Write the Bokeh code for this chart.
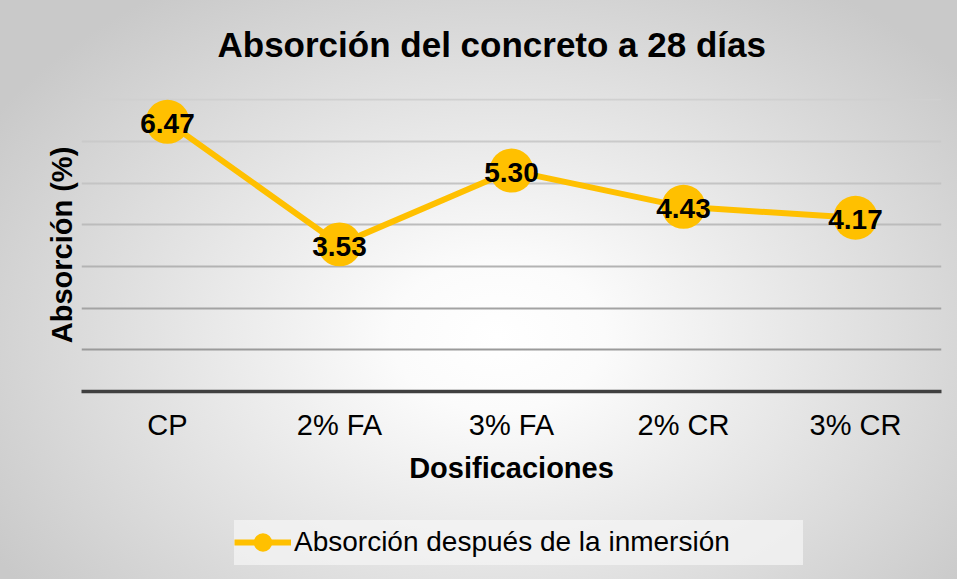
from bokeh.plotting import figure
from bokeh.layouts import column
from bokeh.models import (FactorRange, Range1d, Grid, FixedTicker, Legend, LegendItem,
                          ColumnDataSource, Title)
from bokeh.core.properties import value
from bokeh.embed import file_html
from bokeh.resources import INLINE

# ---- data ----
categories = ["CP", "2% FA", "3% FA", "2% CR", "3% CR"]
absorcion = [6.47, 3.53, 5.30, 4.43, 4.17]
labels = [f"{v:.2f}" for v in absorcion]
grid_levels = [1, 2, 3, 4, 5, 6, 7]
grid_colors = ["#9a9a9a", "#a3a3a3", "#b3b3b3", "#bcbcbc", "#c4c4c4", "#cacaca", "#d0d0d0"]

title_text = "Absorción del concreto a 28 días"
x_title = "Dosificaciones"
y_title = "Absorción (%)"
series_name = "Absorción después de la inmersión"

GOLD = "#FFC000"
FONT = "Liberation Sans"

src = ColumnDataSource(dict(x=categories, y=absorcion, t=labels))

# ---- title strip ----
tp = figure(width=957, height=98, output_backend="svg", toolbar_location=None,
            x_range=FactorRange(*categories, range_padding=0), y_range=Range1d(0, 1),
            min_border_left=81, min_border_right=16, min_border_top=66, min_border_bottom=0)
tp.axis.visible = False
tp.grid.visible = False
tp.background_fill_color = None
tp.border_fill_color = None
tp.outline_line_color = None
tp.title.text = title_text
tp.title.text_font = FONT
tp.title.text_font_size = "35px"
tp.title.text_font_style = "bold"
tp.title.text_color = "#000000"
tp.title.align = "left"
tp.title.vertical_align = "bottom"
tp.title.offset = 136
tp.title.standoff = 6

# ---- main chart ----
p = figure(width=957, height=422, output_backend="svg", toolbar_location=None,
           x_range=FactorRange(*categories, range_padding=0), y_range=Range1d(0, 7.03),
           min_border_left=81, min_border_right=16, min_border_top=0, min_border_bottom=129)
p.title.visible = False
p.background_fill_color = None
p.border_fill_color = None
p.outline_line_color = None

# grids
p.xgrid.visible = False
p.ygrid.visible = False
for lvl, col in zip(grid_levels, grid_colors):
    p.add_layout(Grid(dimension=1, ticker=FixedTicker(ticks=[lvl]),
                      grid_line_color=col, grid_line_width=2))

# x axis
xa = p.xaxis[0]
xa.axis_line_color = "#404040"
xa.axis_line_width = 3.5
xa.major_tick_line_color = None
xa.minor_tick_line_color = None
xa.major_tick_out = 0
xa.major_label_text_font = FONT
xa.major_label_text_font_size = "29px"
xa.major_label_text_color = "#000000"
xa.major_label_standoff = 17
xa.axis_label = x_title
xa.axis_label_text_font = FONT
xa.axis_label_text_font_size = "29px"
xa.axis_label_text_font_style = "bold"
xa.axis_label_text_color = "#000000"
xa.axis_label_standoff = 8

# y axis (no ticks, no tick labels)
ya = p.yaxis[0]
ya.ticker = FixedTicker(ticks=[])
ya.axis_line_color = None
ya.major_tick_line_color = None
ya.minor_tick_line_color = None
ya.major_tick_out = 0
ya.major_label_standoff = 0
ya.axis_label = y_title
ya.axis_label_text_font = FONT
ya.axis_label_text_font_size = "29px"
ya.axis_label_text_font_style = "bold"
ya.axis_label_text_color = "#000000"
ya.axis_label_standoff = 4

# series
ln = p.line("x", "y", source=src, line_color=GOLD, line_width=6)
sc = p.scatter("x", "y", source=src, size=44, fill_color=GOLD, line_color=None)
p.text("x", "y", text="t", source=src, text_align="center", text_baseline="middle",
       text_font=value(FONT), text_font_size="28px", text_font_style="bold",
       text_color="#000000", y_offset=2)

# ---- legend strip (separate figure below the chart; its series is out of view) ----
lg = figure(width=957, height=59, output_backend="svg", toolbar_location=None,
            x_range=FactorRange(*categories, range_padding=0), y_range=Range1d(-2, -1),
            min_border_left=0, min_border_right=0, min_border_top=0, min_border_bottom=0)
lg.axis.visible = False
lg.grid.visible = False
lg.background_fill_color = None
lg.border_fill_color = None
lg.outline_line_color = None
lln = lg.line("x", "y", source=src, line_color=GOLD, line_width=6)
lsc = lg.scatter("x", "y", source=src, size=18, fill_color=GOLD, line_color=None)

legend = Legend(items=[LegendItem(label=series_name, renderers=[lln, lsc])],
                location=(153, 14), orientation="horizontal",
                glyph_width=57, glyph_height=46, label_standoff=3, padding=9, margin=0,
                label_width=509,
                label_text_font=FONT, label_text_font_size="28px", label_text_color="#000000",
                background_fill_color="#f4f4f4", background_fill_alpha=0.75,
                border_line_color=None)
lg.add_layout(legend, "center")

layout = column(tp, p, lg, spacing=0)
layout.styles = {"background": "radial-gradient(ellipse 62% 72% at 52% 58%, #ffffff 0%, #fbfbfb 18%, #c9c9c9 100%)"}

open("out.html", "w").write(file_html(layout, INLINE))
